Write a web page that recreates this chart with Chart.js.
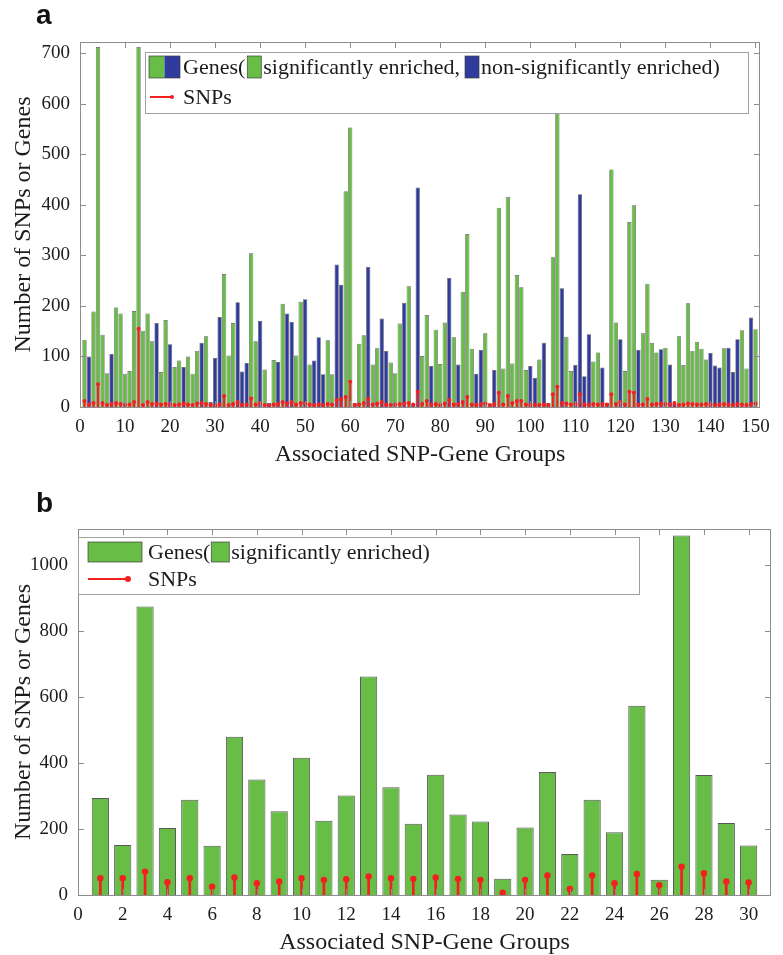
<!DOCTYPE html>
<html>
<head>
<meta charset="utf-8">
<script src="https://cdn.jsdelivr.net/npm/chart.js@4.4.1/dist/chart.umd.min.js"></script>
<style>
  body { margin: 0; background: #fff; }
  #wrap { position: relative; width: 783px; height: 955px; }
  canvas { position: absolute; left: 0; }
  .tag { position: absolute; left: 36px; font: bold 28px "Liberation Sans", Arial, sans-serif; line-height: 28px; color: #111; z-index: 2; }
</style>
</head>
<body>
<div id="wrap">
  <div class="tag" style="top:1px">a</div>
  <canvas id="chartA" width="783" height="467" style="top:0"></canvas>
  <div class="tag" style="top:489px">b</div>
  <canvas id="chartB" width="783" height="467" style="top:488px"></canvas>
</div>
<script>
// ---- panel a: 150 associated SNP-gene groups ----
const groupsA = Array.from({ length: 150 }, (_, i) => i + 1);
const genesA = [
  133, 100, 189, 712, 143, 67, 105, 197, 185, 66,
  71, 190, 712, 151, 185, 130, 166, 69, 172, 124,
  79, 92, 79, 100, 66, 111, 127, 140, 10, 97,
  178, 263, 102, 166, 207, 70, 87, 304, 130, 170,
  74, 8, 93, 89, 204, 185, 168, 102, 208, 213,
  84, 92, 138, 65, 132, 65, 282, 242, 427, 553,
  8, 125, 142, 277, 84, 116, 175, 111, 88, 67,
  165, 206, 239, 6, 434, 101, 182, 81, 153, 85,
  167, 255, 138, 84, 228, 342, 115, 66, 113, 146,
  7, 73, 394, 76, 416, 86, 261, 237, 73, 81,
  58, 94, 127, 8, 296, 580, 235, 139, 71, 83,
  421, 61, 144, 90, 108, 78, 8, 470, 167, 134,
  71, 366, 399, 113, 146, 244, 127, 108, 114, 117,
  84, 6, 140, 83, 205, 111, 129, 115, 94, 107,
  82, 78, 116, 117, 69, 134, 152, 76, 177, 154
];
// 1 = significantly enriched, 0 = non-significantly enriched
const enrichedA = [
  1, 0, 1, 1, 1, 1, 0, 1, 1, 1,
  1, 1, 1, 1, 1, 1, 0, 1, 1, 0,
  1, 1, 0, 1, 1, 1, 0, 1, 0, 0,
  0, 1, 1, 1, 0, 0, 0, 1, 1, 0,
  1, 0, 1, 0, 1, 0, 0, 1, 1, 0,
  1, 0, 0, 0, 1, 1, 0, 0, 1, 1,
  0, 1, 1, 0, 1, 1, 0, 0, 1, 1,
  1, 0, 1, 0, 0, 1, 1, 0, 1, 1,
  1, 0, 1, 0, 1, 1, 1, 0, 0, 1,
  0, 0, 1, 1, 1, 1, 1, 1, 1, 0,
  0, 1, 0, 0, 1, 1, 0, 1, 1, 0,
  0, 0, 0, 1, 1, 0, 0, 1, 1, 0,
  1, 1, 1, 0, 1, 1, 1, 1, 0, 1,
  0, 0, 1, 1, 1, 1, 1, 1, 1, 0,
  0, 0, 1, 0, 0, 0, 1, 1, 0, 1
];
const snpsA = [
  12, 5, 8, 45, 8, 4, 6, 8, 6, 4,
  5, 10, 155, 4, 10, 6, 7, 5, 6, 5,
  4, 5, 7, 5, 4, 7, 8, 6, 4, 3,
  5, 22, 4, 6, 10, 4, 5, 17, 5, 8,
  4, 3, 5, 6, 10, 7, 10, 5, 8, 7,
  5, 4, 5, 4, 6, 5, 14, 16, 20, 50,
  4, 5, 8, 16, 5, 7, 10, 5, 4, 5,
  6, 7, 8, 5, 30, 6, 12, 5, 6, 4,
  7, 14, 5, 6, 10, 20, 5, 4, 6, 7,
  4, 6, 28, 5, 22, 8, 12, 12, 5, 4,
  5, 4, 5, 4, 25, 40, 8, 7, 5, 6,
  25, 5, 5, 6, 5, 6, 5, 25, 6, 10,
  5, 30, 28, 5, 5, 16, 5, 6, 7, 6,
  5, 8, 4, 5, 7, 6, 5, 5, 6, 5,
  4, 5, 6, 5, 4, 6, 5, 4, 6, 7
];

// ---- panel b: 30 significantly enriched groups ----
const groupsB = Array.from({ length: 30 }, (_, i) => i + 1);
const genesB = [294, 152, 875, 203, 289, 149, 480, 350, 254, 416,
                225, 302, 663, 327, 216, 365, 244, 223, 49, 205,
                373, 124, 289, 190, 574, 46, 1090, 364, 218, 150];
const snpsB = [51, 51, 71, 39, 51, 25, 53, 36, 41, 51,
               46, 48, 56, 51, 49, 53, 49, 46, 7, 46,
               59, 18, 59, 36, 64, 30, 86, 66, 41, 38];

const GREEN = '#67bd45';
const BLUE = '#2f3c9e';
const RED = '#f41f1f';
const EDGE = 'rgba(60,60,60,0.85)';
const INK = '#1c1c1c';
const SERIF = '"Liberation Serif", "Times New Roman", serif';

Chart.defaults.font.family = SERIF;
Chart.defaults.color = INK;

const pts = (xs, ys) => xs.map((x, i) => ({ x: x, y: ys[i] }));

// box round the plot with inward ticks on all four sides
const frame = {
  id: 'frame',
  afterDatasetsDraw(chart) {
    const { ctx, chartArea: a, scales: { x, y } } = chart;
    const len = 6;
    ctx.save();
    ctx.strokeStyle = '#8d8d8d';
    ctx.lineWidth = 1;
    ctx.beginPath();
    x.ticks.forEach(t => {
      const px = Math.round(x.getPixelForValue(t.value)) + 0.5;
      ctx.moveTo(px, a.bottom); ctx.lineTo(px, a.bottom - len);
      ctx.moveTo(px, a.top); ctx.lineTo(px, a.top + len);
    });
    y.ticks.forEach(t => {
      const py = Math.round(y.getPixelForValue(t.value)) + 0.5;
      ctx.moveTo(a.left, py); ctx.lineTo(a.left + len, py);
      ctx.moveTo(a.right, py); ctx.lineTo(a.right - len, py);
    });
    ctx.stroke();
    ctx.strokeRect(Math.round(a.left) + 0.5, Math.round(a.top) + 0.5,
                   Math.round(a.width) - 1, Math.round(a.height));
    ctx.restore();
  }
};

// MATLAB-style legend box: swatches, stem sample and text laid out in a row
const legendBox = {
  id: 'legendBox',
  afterDraw(chart, args, opts) {
    const ctx = chart.ctx;
    const [bx, by, bw, bh] = opts.box;
    ctx.save();
    ctx.fillStyle = '#fff';
    ctx.fillRect(bx, by, bw, bh);
    ctx.strokeStyle = '#a0a0a0';
    ctx.lineWidth = 1;
    ctx.strokeRect(bx + 0.5, by + 0.5, bw, bh);
    ctx.font = '22px ' + SERIF;
    ctx.textBaseline = 'middle';
    opts.rows.forEach(row => {
      let x = row.x;
      row.items.forEach(it => {
        if (it.gap) { x += it.gap; return; }
        if (it.swatch) {
          const part = it.w / it.swatch.length;
          it.swatch.forEach((c, k) => {
            ctx.fillStyle = c;
            ctx.fillRect(x + k * part, row.y - it.h / 2, part, it.h);
          });
          ctx.strokeStyle = EDGE;
          ctx.lineWidth = 0.8;
          ctx.strokeRect(x, row.y - it.h / 2, it.w, it.h);
          x += it.w;
        } else if (it.stem) {
          ctx.strokeStyle = RED;
          ctx.lineWidth = 2;
          ctx.beginPath();
          ctx.moveTo(x, row.y); ctx.lineTo(x + it.stem, row.y);
          ctx.stroke();
          ctx.fillStyle = RED;
          ctx.beginPath();
          ctx.arc(x + it.stem, row.y, it.r, 0, Math.PI * 2);
          ctx.fill();
          x += it.stem;
        } else {
          ctx.fillStyle = INK;
          ctx.fillText(it.text, x, row.y + 1);
          x += ctx.measureText(it.text).width;
        }
      });
    });
    ctx.restore();
  }
};

// ticks at every multiple of step up to the last one inside the axis range
function stepTicks(step) {
  return scale => {
    const ticks = [];
    for (let v = 0; v <= scale.max + 1e-9; v += step) ticks.push({ value: v });
    scale.ticks = ticks;
  };
}

function axes(xMax, xStep, yMax, yStep, leftWidth) {
  const tickFont = { size: 19 };
  const plain = v => String(v);
  return {
    x: {
      type: 'linear', min: 0, max: xMax, offset: false,
      grid: { display: false, drawTicks: false, tickLength: 0 },
      border: { display: false },
      ticks: { stepSize: xStep, font: tickFont, padding: 9, autoSkip: false, maxRotation: 0, callback: plain },
      afterBuildTicks: stepTicks(xStep),
      afterFit: s => { s.height = 60; },
      title: { display: true, text: 'Associated SNP-Gene Groups', font: { size: 24, lineHeight: 1 },
               padding: { top: 0, bottom: 0 } }
    },
    y: {
      min: 0, max: yMax,
      grid: { display: false, drawTicks: false, tickLength: 0 },
      border: { display: false },
      ticks: { stepSize: yStep, font: tickFont, padding: 10, autoSkip: false, callback: plain },
      afterBuildTicks: stepTicks(yStep),
      afterFit: s => { s.width = leftWidth; },
      title: { display: true, text: 'Number of SNPs or Genes', font: { size: 24, lineHeight: 1 },
               padding: { top: 12, bottom: 0 } }
    }
  };
}

// panel a
new Chart(document.getElementById('chartA'), {
  type: 'bar',
  data: {
    datasets: [
      {
        label: 'SNPs',
        type: 'line',
        data: pts(groupsA, snpsA),
        showLine: false,
        pointRadius: 2,
        pointBorderWidth: 0,
        pointBackgroundColor: RED,
        order: 1
      },
      {
        label: 'SNP stems',
        data: pts(groupsA, snpsA),
        backgroundColor: RED,
        barThickness: 1.3,
        grouped: false,
        order: 2
      },
      {
        label: 'Genes',
        data: pts(groupsA, genesA),
        backgroundColor: enrichedA.map(s => s ? GREEN : BLUE),
        borderColor: EDGE,
        borderWidth: 0.7,
        categoryPercentage: 1,
        barPercentage: 0.95,
        grouped: false,
        order: 3
      }
    ]
  },
  options: {
    responsive: false,
    animation: false,
    layout: { padding: { left: 0, top: 42, right: 23, bottom: 0 } },
    plugins: {
      legend: { display: false },
      tooltip: { enabled: false },
      legendBox: {
        box: [145, 52, 603, 61],
        rows: [
          { x: 149, y: 67, items: [
            { swatch: [GREEN, BLUE], w: 31, h: 22 }, { gap: 3 },
            { text: 'Genes(' }, { gap: 2 },
            { swatch: [GREEN], w: 14, h: 22 }, { gap: 2 },
            { text: 'significantly enriched,' }, { gap: 5 },
            { swatch: [BLUE], w: 14, h: 22 }, { gap: 2 },
            { text: 'non-significantly enriched)' }
          ] },
          { x: 150, y: 97, items: [
            { stem: 22, r: 2 }, { gap: 11 }, { text: 'SNPs' }
          ] }
        ]
      }
    },
    scales: axes(151, 10, 722, 100, 80)
  },
  plugins: [frame, legendBox]
});

// panel b
new Chart(document.getElementById('chartB'), {
  type: 'bar',
  data: {
    datasets: [
      {
        label: 'SNPs',
        type: 'line',
        data: pts(groupsB, snpsB),
        showLine: false,
        pointRadius: 3.2,
        pointBorderWidth: 0,
        pointBackgroundColor: RED,
        order: 1
      },
      {
        label: 'SNP stems',
        data: pts(groupsB, snpsB),
        backgroundColor: RED,
        barThickness: 2,
        grouped: false,
        order: 2
      },
      {
        label: 'Genes',
        data: pts(groupsB, genesB),
        backgroundColor: GREEN,
        borderColor: EDGE,
        borderWidth: 1,
        categoryPercentage: 1,
        barPercentage: 0.77,
        grouped: false,
        order: 3
      }
    ]
  },
  options: {
    responsive: false,
    animation: false,
    layout: { padding: { left: 0, top: 41, right: 12, bottom: 0 } },
    plugins: {
      legend: { display: false },
      tooltip: { enabled: false },
      legendBox: {
        box: [78, 49, 561, 57],
        rows: [
          { x: 88, y: 64, items: [
            { swatch: [GREEN], w: 54, h: 20 }, { gap: 6 },
            { text: 'Genes(' }, { gap: 1 },
            { swatch: [GREEN], w: 18, h: 20 }, { gap: 2 },
            { text: 'significantly enriched)' }
          ] },
          { x: 88, y: 91, items: [
            { stem: 40, r: 3 }, { gap: 20 }, { text: 'SNPs' }
          ] }
        ]
      }
    },
    scales: axes(31, 2, 1110, 200, 78)
  },
  plugins: [frame, legendBox]
});
</script>
</body>
</html>
